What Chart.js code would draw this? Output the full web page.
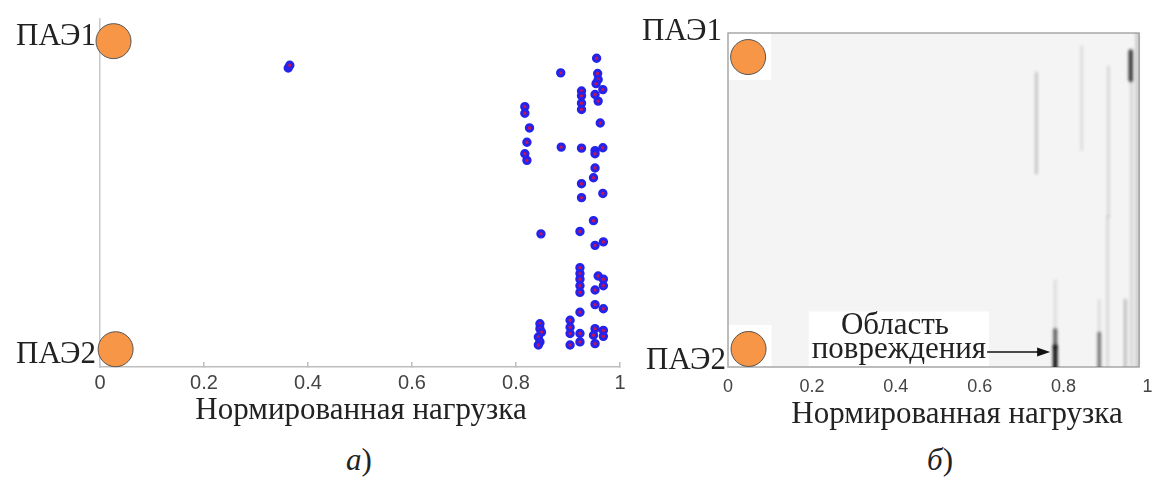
<!DOCTYPE html>
<html><head><meta charset="utf-8">
<script src="https://cdn.jsdelivr.net/npm/chart.js@4.4.1/dist/chart.umd.min.js"></script>
<style>
html,body{margin:0;padding:0;background:#fff;}
#wrap{position:relative;width:1166px;height:486px;overflow:hidden;font-family:"Liberation Serif","Times New Roman",serif;color:#222;}
canvas{position:absolute;top:0;}
.lbl{position:absolute;font-size:31px;line-height:31px;white-space:nowrap;}
</style></head><body>
<div id="wrap">
<canvas id="cA" width="640" height="440" style="left:0;width:640px;height:440px"></canvas>
<canvas id="cB" width="546" height="440" style="left:620px;width:546px;height:440px"></canvas>
<div class="lbl" style="left:0;width:96px;text-align:right;top:19px">ПАЭ1</div>
<div class="lbl" style="left:0;width:96px;text-align:right;top:337px">ПАЭ2</div>
<div class="lbl" style="left:600px;width:122px;text-align:right;top:14px">ПАЭ1</div>
<div class="lbl" style="left:600px;width:126px;text-align:right;top:343px">ПАЭ2</div>
<div class="lbl" style="left:161px;width:400px;text-align:center;top:393px">Нормированная нагрузка</div>
<div class="lbl" style="left:757px;width:400px;text-align:center;top:397px">Нормированная нагрузка</div>
<div class="lbl" style="left:309px;width:100px;text-align:center;top:444px"><i>а</i>)</div>
<div class="lbl" style="left:890px;width:100px;text-align:center;top:444px"><i>б</i>)</div>
</div>
<script>
// ---- data ----
const xTickLabels = ['0', '0.2', '0.4', '0.6', '0.8', '1'];
const sensorNames = ['ПАЭ1', 'ПАЭ2'];
// panel a: sensor positions (normalized load axis, normalized position axis)
const sensorAX = [0.026, 0.030];
const sensorAY = [0.935, 0.051];
// panel a: located AE events
const eventLoad = [0.955,0.886,0.957,0.958,0.954,0.967,0.926,0.952,0.926,0.958,0.926,0.926,0.817,0.817,0.826,0.962,0.821,0.817,0.821,0.887,0.926,0.952,0.967,0.952,0.952,0.949,0.926,0.967,0.926,0.949,0.848,0.923,0.968,0.952,0.923,0.923,0.923,0.958,0.968,0.923,0.968,0.952,0.923,0.952,0.968,0.923,0.904,0.904,0.923,0.904,0.923,0.904,0.952,0.968,0.949,0.968,0.952,0.846,0.846,0.849,0.843,0.846,0.843,0.362,0.365];
const eventPos  = [0.886,0.844,0.842,0.825,0.813,0.796,0.792,0.782,0.778,0.763,0.757,0.739,0.747,0.728,0.686,0.700,0.645,0.612,0.593,0.631,0.628,0.621,0.629,0.612,0.571,0.543,0.526,0.498,0.486,0.420,0.382,0.389,0.359,0.349,0.285,0.268,0.252,0.261,0.252,0.233,0.233,0.221,0.214,0.179,0.167,0.157,0.134,0.114,0.096,0.096,0.072,0.063,0.110,0.105,0.091,0.088,0.067,0.124,0.110,0.100,0.086,0.072,0.063,0.858,0.866];
// panel b: sensor positions
const sensorBX = [0.048, 0.049];
const sensorBY = [0.928, 0.054];
// panel b: activity streaks (load, position from, position to, intensity 0..1)
const streakLoad = [0.735, 0.843, 0.907, 0.960, 0.962, 0.975, 0.780, 0.780, 0.780, 0.885, 0.905, 0.947, 0.885];
const streakFrom = [0.580, 0.650, 0.450, 0.860, 0.000, 0.000, 0.000, 0.060, 0.110, 0.000, 0.000, 0.000, 0.100];
const streakTo   = [0.880, 0.960, 0.900, 0.945, 0.860, 1.000, 0.060, 0.110, 0.260, 0.100, 0.450, 0.200, 0.200];
const streakLevel= [0.22,  0.12,  0.14,  0.80,  0.16,  0.22,  0.95,  0.65,  0.12,  0.55,  0.14,  0.25,  0.12];
const frameRight = 0.98;
const damageLoad = 0.775, damagePos = 0.045;
const damageText = ['Область', 'повреждения'];

const orange = '#F79646';
const serif = '"Liberation Serif","Times New Roman",serif';
const sans = '"Liberation Sans", Arial, sans-serif';

// ---- chart a ----
new Chart(document.getElementById('cA'), {
  type: 'scatter',
  data: { datasets: [
    { data: eventLoad.map((v,i)=>({x:v, y:eventPos[i]})), pointRadius: 3.2, borderWidth: 3,
      backgroundColor: 'rgb(195,20,85)', borderColor: 'rgb(35,35,235)' },
    { data: sensorAX.map((v,i)=>({x:v, y:sensorAY[i]})), pointRadius: 17.5, borderWidth: 1,
      backgroundColor: orange, borderColor: '#555', clip: false }
  ]},
  options: {
    responsive: false, animation: false, events: [],
    layout: { padding: { left: 100, right: 20, top: 15, bottom: 0 } },
    plugins: { legend: { display: false }, tooltip: { enabled: false } },
    scales: {
      x: { type: 'linear', min: 0, max: 1,
        ticks: { stepSize: 0.2, autoSkip: false, maxRotation: 0, padding: 9, color: '#444',
          font: { family: sans, size: 20 }, callback: (v, i) => xTickLabels[i] },
        grid: { display: true, drawOnChartArea: false, drawTicks: true, tickLength: -5, color: '#bdbdbd', lineWidth: 1.5 },
        border: { display: true, color: '#bdbdbd', width: 1.5 },
        afterFit: s => { s.height = 73; } },
      y: { min: 0, max: 1, ticks: { display: false }, grid: { display: false },
        border: { display: true, color: '#c8c8c8', width: 1.5 },
        afterFit: s => { s.width = 0; } }
    }
  }
});

// ---- chart b ----
const panelPlugin = {
  id: 'panel',
  beforeDatasetsDraw(chart) {
    const { ctx, scales: { x, y } } = chart;
    const l = x.getPixelForValue(0), r = x.getPixelForValue(frameRight);
    const t = y.getPixelForValue(1), b = y.getPixelForValue(0);
    ctx.save();
    ctx.fillStyle = '#f4f4f4';
    ctx.fillRect(l, t, r - l, b - t);
    ctx.fillStyle = '#fff';
    sensorBX.forEach((sx, i) => {
      const px = x.getPixelForValue(sx), py = y.getPixelForValue(sensorBY[i]);
      const x0 = Math.max(l, px - 21), x1 = px + 23;
      const y0 = Math.max(t, py - 24), y1 = Math.min(b, py + 23);
      ctx.fillRect(x0, y0, x1 - x0, y1 - y0);
    });
    ctx.strokeStyle = '#a8a8a8'; ctx.lineWidth = 1.5;
    ctx.strokeRect(l, t, r - l, b - t);
    ctx.restore();
  },
  beforeDatasetDraw(chart, args) {
    if (chart.data.datasets[args.index].isStreak) { chart.ctx.save(); chart.ctx.filter = 'blur(1.8px)'; }
  },
  afterDatasetDraw(chart, args) {
    if (chart.data.datasets[args.index].isStreak) chart.ctx.restore();
  },
  afterDatasetsDraw(chart) {
    const { ctx, scales: { x, y } } = chart;
    const tipX = x.getPixelForValue(damageLoad) - 3, tipY = y.getPixelForValue(damagePos);
    const b = y.getPixelForValue(0);
    ctx.save();
    ctx.font = '31px ' + serif;
    const w2 = ctx.measureText(damageText[1]).width;
    const right2 = tipX - 64, left2 = right2 - w2;
    const base2 = tipY + 6.5, base1 = base2 - 24;
    ctx.fillStyle = '#fff';
    ctx.fillRect(left2 - 3, base1 - 23, w2 + 6, b - 1 - (base1 - 23));
    ctx.fillStyle = '#222';
    ctx.textAlign = 'center'; ctx.textBaseline = 'alphabetic';
    ctx.fillText(damageText[0], left2 + w2 / 2 - 4, base1);
    ctx.textAlign = 'left';
    ctx.fillText(damageText[1], left2, base2);
    ctx.strokeStyle = '#111'; ctx.lineWidth = 1.6;
    ctx.beginPath(); ctx.moveTo(right2 + 1, tipY); ctx.lineTo(tipX - 10, tipY); ctx.stroke();
    ctx.fillStyle = '#111';
    ctx.beginPath(); ctx.moveTo(tipX, tipY); ctx.lineTo(tipX - 13, tipY - 4.5); ctx.lineTo(tipX - 13, tipY + 4.5); ctx.closePath(); ctx.fill();
    ctx.restore();
  }
};

const streakSets = streakLoad.map((v, i) => ({
  data: [{ x: v, y: streakFrom[i] }, { x: v, y: streakTo[i] }],
  showLine: true, isStreak: true, pointRadius: 0,
  borderColor: 'rgba(15,15,15,' + streakLevel[i] + ')',
  borderWidth: 2 + 3 * streakLevel[i], borderCapStyle: 'round'
}));

new Chart(document.getElementById('cB'), {
  type: 'scatter',
  data: { datasets: streakSets.concat([
    { data: sensorBX.map((v,i)=>({x:v, y:sensorBY[i]})), pointRadius: 17.5, borderWidth: 1,
      backgroundColor: orange, borderColor: '#555' }
  ])},
  options: {
    responsive: false, animation: false, events: [],
    layout: { padding: { left: 108, right: 9, top: 33, bottom: 0 } },
    plugins: { legend: { display: false }, tooltip: { enabled: false } },
    scales: {
      x: { type: 'linear', min: 0, max: 1,
        ticks: { stepSize: 0.2, autoSkip: false, maxRotation: 0, padding: 9, color: '#444',
          font: { family: sans, size: 18 }, callback: (v, i) => xTickLabels[i] },
        grid: { display: false, drawTicks: false },
        border: { display: false },
        afterFit: s => { s.height = 73; } },
      y: { display: false, min: 0, max: 1 }
    }
  },
  plugins: [panelPlugin]
});
</script>
</body></html>
